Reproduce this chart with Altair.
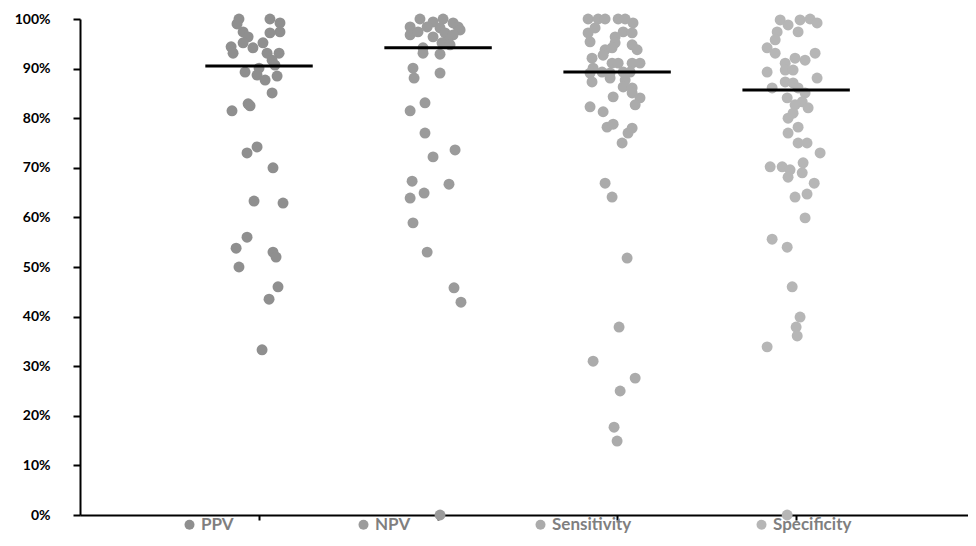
import altair as alt
import pandas as pd

categories = ["PPV", "NPV", "Sensitivity", "Specificity"]
colors = ["#8f8f8f", "#9b9b9b", "#ababab", "#b6b6b6"]

# x values (category index + jitter) and y values (%)
ppv_x = [0.888, 1.061, 0.877, 1.117, 0.911, 1.117, 0.939, 1.061, 0.911, 0.844, 0.966, 1.022, 0.855,
         1.045, 1.112, 1.073, 1.089, 0.922, 1.0, 0.989, 1.034, 1.101, 1.073, 0.939, 0.950, 0.849,
         0.989, 0.933, 1.078, 0.972, 1.134, 0.933, 0.872, 1.078, 1.095, 0.888, 1.106, 1.056, 1.017]
ppv_y = [100, 100, 99.0, 99.2, 97.4, 97.4, 96.4, 97.2, 95.2, 94.4, 94.2, 95.2, 93.1,
         93.1, 93.1, 91.7, 90.7, 89.3, 90.1, 88.7, 87.7, 88.5, 85.1, 82.9, 82.5, 81.5,
         74.2, 73.0, 70.0, 63.3, 62.9, 56.0, 53.8, 53.0, 52.0, 50.0, 46.0, 43.5, 33.3]

npv_x = [1.899, 2.028, 1.972, 2.084, 1.844, 2.112, 1.939, 2.011, 2.123, 1.844, 1.888, 1.972, 2.039,
         2.084, 2.056, 1.916, 2.022, 2.067, 1.916, 2.011, 1.860, 1.866, 2.011, 1.927, 1.844, 1.927,
         2.095, 1.972, 1.855, 2.061, 1.844, 1.922, 1.860, 1.939, 2.089, 2.128, 2.011]
npv_y = [100, 100, 99.4, 99.2, 98.4, 98.4, 98.4, 98.2, 97.8, 96.8, 97.4, 96.4, 97.2,
         96.8, 95.4, 94.2, 95.2, 94.8, 93.1, 92.9, 90.1, 88.1, 89.1, 83.1, 81.5, 77.0,
         73.6, 72.2, 67.3, 66.7, 63.9, 64.9, 58.9, 53.0, 45.8, 42.9, 0]

sens_x = [2.838, 2.894, 2.933, 3.006, 3.045, 3.089, 2.838, 2.877, 3.034, 2.989, 3.084, 2.849, 2.989,
          2.933, 2.972, 3.084, 3.112, 2.922, 2.860, 2.972, 3.006, 3.084, 3.128, 2.866, 2.916, 2.849,
          2.961, 3.034, 3.073, 2.860, 2.961, 3.045, 3.034, 3.084, 3.084, 3.128, 3.101, 2.978, 2.849,
          2.922, 2.944, 2.978, 3.084, 3.061, 3.028, 2.933, 2.972, 3.056, 3.011, 2.866, 3.101, 3.017,
          2.983, 3.0]
sens_y = [100, 100, 100, 100, 100, 99.2, 97.2, 98.2, 97.4, 96.4, 97.2, 95.4, 95.2,
          93.8, 94.2, 94.8, 93.8, 92.7, 92.1, 91.1, 91.1, 91.1, 91.1, 90.1, 89.3, 89.1,
          89.1, 89.3, 89.3, 87.3, 88.1, 87.7, 86.3, 86.1, 85.1, 84.1, 82.7, 84.3, 82.3,
          81.3, 78.2, 78.8, 78.0, 77.0, 75.0, 66.9, 64.1, 51.8, 37.9, 31.0, 27.6, 25.0,
          17.7, 14.9]

spec_x = [3.911, 4.022, 4.078, 4.117, 3.955, 4.011, 3.894, 3.883, 3.838, 3.883, 4.106, 4.050, 3.994,
          3.939, 3.939, 3.838, 3.983, 4.117, 3.939, 3.983, 3.866, 4.011, 4.050, 3.950, 4.034, 4.067,
          3.994, 3.983, 3.955, 4.011, 3.955, 4.011, 4.061, 4.134, 3.855, 3.922, 3.966, 4.039, 4.034,
          3.955, 4.101, 3.994, 4.061, 4.050, 3.866, 3.950, 3.978, 4.022, 4.0, 4.006, 3.838, 3.950]
spec_y = [99.8, 99.8, 100, 99.2, 98.8, 97.4, 97.4, 95.8, 94.2, 93.1, 93.1, 91.7, 92.1,
          91.1, 89.7, 89.3, 89.7, 88.1, 87.3, 87.1, 86.1, 86.1, 85.1, 84.1, 83.3, 82.1,
          82.7, 81.0, 80.0, 78.2, 77.0, 75.0, 75.0, 73.0, 70.2, 70.2, 69.6, 71.0, 69.0,
          68.1, 66.9, 64.1, 64.7, 59.9, 55.6, 54.0, 46.0, 39.9, 37.9, 36.1, 33.9, 0]

medians = [90.5, 94.2, 89.3, 85.7]
centers = [1, 2, 3, 4]

rows = []
for cat, xs, ys in zip(categories, [ppv_x, npv_x, sens_x, spec_x], [ppv_y, npv_y, sens_y, spec_y]):
    for xv, yv in zip(xs, ys):
        rows.append({"Measure": cat, "x": xv, "y": yv})
pts = pd.DataFrame(rows)
med = pd.DataFrame({"Measure": categories, "center": centers, "median": medians})

font = "Lato"

x_scale = alt.Scale(domain=[0, 4.96], nice=False, zero=False)
y_scale = alt.Scale(domain=[0, 100], nice=False)

points = alt.Chart(pts).mark_circle(size=120, opacity=1).encode(
    x=alt.X("x:Q", scale=x_scale,
            axis=alt.Axis(values=[1, 2, 3, 4], labels=False, title=None, grid=False,
                          domainColor="black", domainWidth=2, tickColor="black",
                          tickWidth=2, tickSize=5)),
    y=alt.Y("y:Q", scale=y_scale,
            axis=alt.Axis(values=list(range(0, 101, 10)), labelExpr="datum.value + '%'",
                          title=None, grid=False, domainColor="black", domainWidth=2,
                          tickColor="black", tickWidth=2, tickSize=7, labelPadding=23,
                          labelFont=font, labelFontSize=14, labelFontWeight="bold",
                          labelColor="black")),
    color=alt.Color("Measure:N", scale=alt.Scale(domain=categories, range=colors),
                    legend=alt.Legend(title=None, orient="none", legendX=101, legendY=497,
                                      direction="horizontal", columns=4, columnPadding=121,
                                      gridAlign="each",
                                      symbolType="circle", symbolSize=100, symbolStrokeWidth=0,
                                      labelFont=font, labelFontSize=17, labelFontWeight="bold",
                                      labelColor="#7f7f7f", labelOffset=3, padding=0)),
)

rules = alt.Chart(med).transform_calculate(
    x1="datum.center - 0.3", x2="datum.center + 0.3"
).mark_rule(color="black", strokeWidth=3).encode(
    x=alt.X("x1:Q", scale=x_scale),
    x2="x2:Q",
    y=alt.Y("median:Q", scale=y_scale),
)

chart = alt.layer(points, rules).properties(
    width=888, height=496,
    autosize=alt.AutoSizeParams(type="none"),
    padding={"left": 72, "top": 11, "right": 0, "bottom": 23},
).configure_view(stroke=None)

chart.save("out.html", embed_options={"renderer": "svg", "actions": False})
